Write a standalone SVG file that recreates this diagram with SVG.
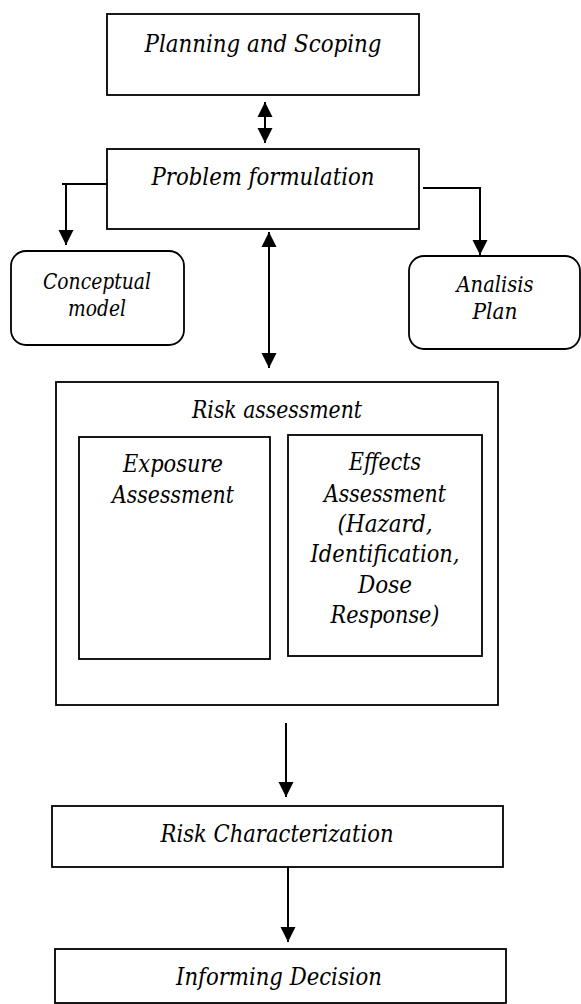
<svg xmlns="http://www.w3.org/2000/svg" width="581" height="1004" viewBox="0 0 581 1004">
<style>
.box{fill:#fff;stroke:#000;stroke-width:1.8}
.c{fill:none;stroke:#000;stroke-width:2}
.t{font-family:"DejaVu Serif Condensed","DejaVu Serif","Liberation Serif","Times New Roman",serif;font-style:italic;font-size:24px;fill:#000;text-anchor:middle}
.s{font-size:22px}
</style>
<defs>
<marker id="ah" viewBox="0 0 10 10" refX="10" refY="5" markerWidth="15" markerHeight="16" markerUnits="userSpaceOnUse" orient="auto-start-reverse">
<path d="M0,0 L10,5 L0,10 z" fill="#000"/>
</marker>
</defs>
<rect width="581" height="1004" fill="#fff"/>
<g id="connectors">
<line class="c" x1="265" y1="102" x2="265" y2="143" marker-start="url(#ah)" marker-end="url(#ah)"/>
<polyline class="c" points="108,184 62,184"/>
<line class="c" x1="66" y1="184" x2="66" y2="245" marker-end="url(#ah)"/>
<polyline class="c" points="423,188 480,188 480,255" marker-end="url(#ah)"/>
<line class="c" x1="269" y1="232" x2="269" y2="368" marker-start="url(#ah)" marker-end="url(#ah)"/>
<line class="c" x1="286" y1="723" x2="286" y2="797" marker-end="url(#ah)"/>
<line class="c" x1="288" y1="867" x2="288" y2="942" marker-end="url(#ah)"/>
</g>
<g id="planning">
<rect class="box" x="107" y="14" width="312" height="81"/>
<text class="t" x="263" y="52" textLength="237" lengthAdjust="spacingAndGlyphs">Planning and Scoping</text>
</g>
<g id="problem">
<rect class="box" x="107" y="149" width="312" height="80"/>
<text class="t" x="263" y="185" textLength="223" lengthAdjust="spacingAndGlyphs">Problem formulation</text>
</g>
<g id="conceptual">
<rect class="box" x="11" y="251" width="173" height="94" rx="15"/>
<text class="t s" x="97" y="289" textLength="108" lengthAdjust="spacingAndGlyphs">Conceptual</text>
<text class="t s" x="97" y="316" textLength="58" lengthAdjust="spacingAndGlyphs">model</text>
</g>
<g id="analisis">
<rect class="box" x="409" y="256" width="171" height="93" rx="15"/>
<text class="t s" x="495" y="292" textLength="77" lengthAdjust="spacingAndGlyphs">Analisis</text>
<text class="t s" x="495" y="319" textLength="45" lengthAdjust="spacingAndGlyphs">Plan</text>
</g>
<g id="risk-assessment">
<rect class="box" x="56" y="382" width="442" height="323"/>
<text class="t" x="277" y="418" textLength="170" lengthAdjust="spacingAndGlyphs">Risk assessment</text>
</g>
<g id="exposure">
<rect class="box" x="79" y="437" width="191" height="222"/>
<text class="t" x="173" y="472" textLength="100" lengthAdjust="spacingAndGlyphs">Exposure</text>
<text class="t" x="173" y="503" textLength="122" lengthAdjust="spacingAndGlyphs">Assessment</text>
</g>
<g id="effects">
<rect class="box" x="288" y="435" width="194" height="221"/>
<text class="t" x="385" y="470" textLength="72" lengthAdjust="spacingAndGlyphs">Effects</text>
<text class="t" x="385" y="502" textLength="122" lengthAdjust="spacingAndGlyphs">Assessment</text>
<text class="t" x="385" y="532" textLength="95" lengthAdjust="spacingAndGlyphs">(Hazard,</text>
<text class="t" x="385" y="562" textLength="149" lengthAdjust="spacingAndGlyphs">Identification,</text>
<text class="t" x="385" y="593" textLength="54" lengthAdjust="spacingAndGlyphs">Dose</text>
<text class="t" x="385" y="623" textLength="109" lengthAdjust="spacingAndGlyphs">Response)</text>
</g>
<g id="risk-characterization">
<rect class="box" x="52" y="806" width="451" height="61"/>
<text class="t" x="277" y="842" textLength="233" lengthAdjust="spacingAndGlyphs">Risk Characterization</text>
</g>
<g id="informing">
<rect class="box" x="55" y="949" width="451" height="54"/>
<text class="t" x="279" y="985" textLength="206" lengthAdjust="spacingAndGlyphs">Informing Decision</text>
</g>
</svg>
